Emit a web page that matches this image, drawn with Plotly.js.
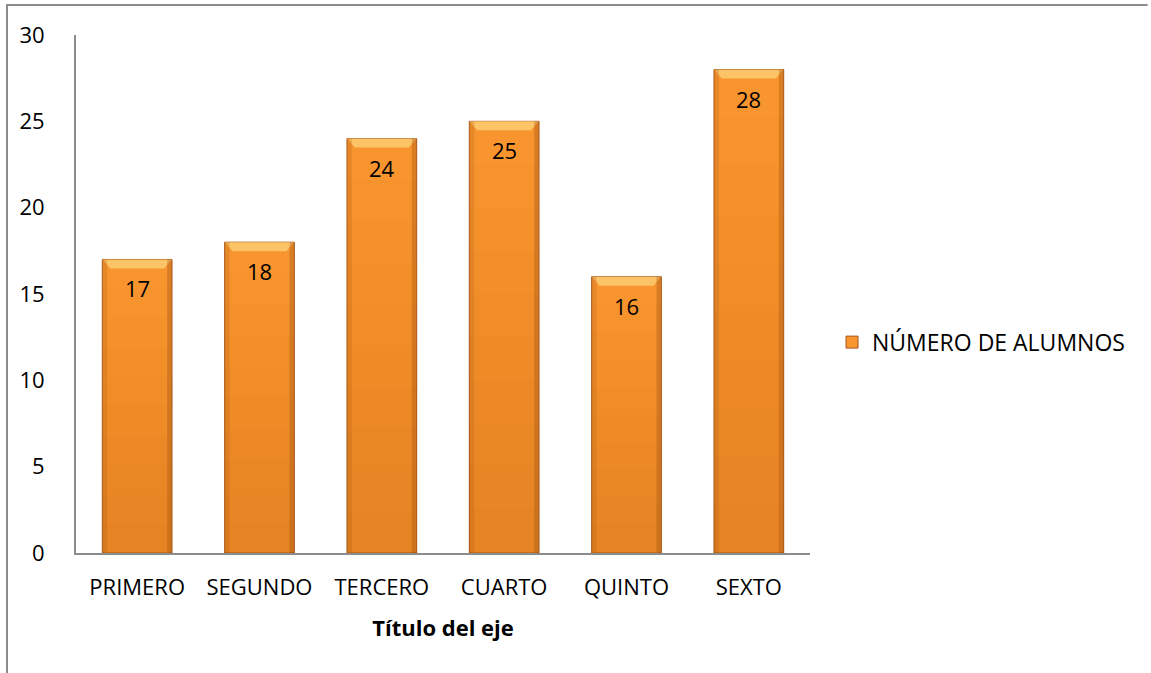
<!DOCTYPE html>
<html>
<head>
<meta charset="utf-8">
<script src="https://cdn.plot.ly/plotly-3.0.1.min.js"></script>
<style>html,body{margin:0;padding:0;background:#fff;}#chart{width:1151px;height:673px;}</style>
</head>
<body>
<div id="chart"></div>
<script>
const categories = ["PRIMERO", "SEGUNDO", "TERCERO", "CUARTO", "QUINTO", "SEXTO"];
const alumnos = [17, 18, 24, 25, 16, 28];
const seriesName = "NÚMERO DE ALUMNOS";
const xTitle = "Título del eje";
const yTicks = [0, 5, 10, 15, 20, 25, 30];

const FONT = "Open Sans, Lato, sans-serif";
const barWidth = 0.57;

const trace = {
  type: "bar",
  x: categories,
  y: alumnos,
  name: seriesName,
  width: barWidth,
  marker: { color: "#F8952F", line: { color: "#A9581B", width: 1 } },
  hoverinfo: "x+y",
  showlegend: true
};

const labels = categories.map((c, i) => ({
  x: c, y: alumnos[i], text: String(alumnos[i]),
  showarrow: false, yshift: -29, xref: "x", yref: "y",
  font: { family: FONT, size: 22, color: "#000" }
}));

// bevel / shading decorations for each bar (pixel-wide, anchored at bar position)
const shadeSteps = [0.9, 0.8, 0.7, 0.6, 0.5, 0.4, 0.3, 0.2, 0.1];
const bevels = [];
categories.forEach((c, i) => {
  shadeSteps.forEach(f => {
    bevels.push({
      type: "rect", xref: "x", yref: "y",
      xsizemode: "pixel", xanchor: i, x0: -34.5, x1: 34.5,
      y0: 0, y1: alumnos[i] * f,
      fillcolor: "rgba(190,80,20,0.022)", line: { width: 0 }, layer: "above"
    });
  });
  bevels.push({
    type: "path", xref: "x", yref: "y",
    xsizemode: "pixel", ysizemode: "pixel",
    xanchor: i, yanchor: alumnos[i],
    path: "M-34.5,0 L34.5,0 L27,-9 L-27,-9 Z",
    fillcolor: "rgba(252,200,110,0.9)", line: { width: 0 }, layer: "above"
  });
  bevels.push({
    type: "rect", xref: "x", yref: "y",
    xsizemode: "pixel", xanchor: i, x0: -34.5, x1: -30,
    y0: 0, y1: alumnos[i],
    fillcolor: "rgba(170,85,20,0.22)", line: { width: 0 }, layer: "above"
  });
  bevels.push({
    type: "rect", xref: "x", yref: "y",
    xsizemode: "pixel", xanchor: i, x0: 30, x1: 34.5,
    y0: 0, y1: alumnos[i],
    fillcolor: "rgba(150,75,15,0.32)", line: { width: 0 }, layer: "above"
  });
});

const layout = {
  width: 1151, height: 673,
  margin: { l: 76, r: 341, t: 35, b: 120, pad: 0 },
  paper_bgcolor: "#fff", plot_bgcolor: "#fff",
  font: { family: FONT, size: 22, color: "#000" },
  bargap: 1 - barWidth,
  xaxis: {
    type: "category",
    showline: true, linecolor: "#8c8c8c", linewidth: 2,
    ticks: "", showgrid: false, zeroline: false,
    ticklabelstandoff: 14,
    tickfont: { family: FONT, size: 22, color: "#000" },
    title: { text: "<b>" + xTitle + "</b>", font: { family: FONT, size: 22, color: "#000" }, standoff: 20 }
  },
  yaxis: {
    range: [0, 30], tickvals: yTicks, ticktext: yTicks.map(String),
    showline: true, linecolor: "#8c8c8c", linewidth: 2,
    ticks: "", showgrid: false, zeroline: false,
    ticklabelstandoff: 25,
    tickfont: { family: FONT, size: 22, color: "#000" }
  },
  legend: {
    x: 1.03, xanchor: "left", y: 0.407, yanchor: "middle",
    font: { family: FONT, size: 23, color: "#000" },
    bgcolor: "rgba(0,0,0,0)"
  },
  annotations: labels,
  shapes: bevels.concat([
    { type: "path", xref: "paper", yref: "paper",
      path: "M1.46,1.0579 L-0.094,1.0579 L-0.094,-0.3",
      line: { color: "#8c8c8c", width: 2 }, layer: "above" }
  ])
};

Plotly.newPlot("chart", [trace], layout, { displayModeBar: false, staticPlot: true });
</script>
</body>
</html>
